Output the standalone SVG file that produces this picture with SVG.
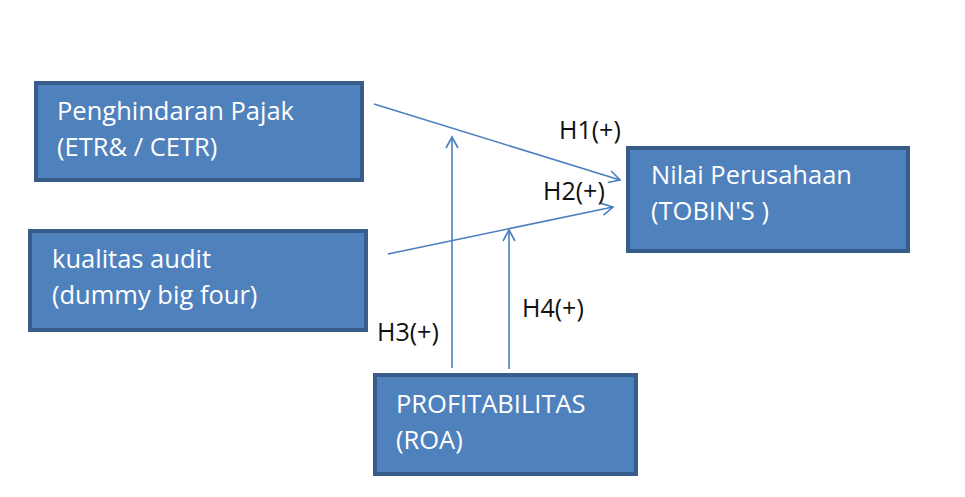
<svg xmlns="http://www.w3.org/2000/svg" width="965" height="497" viewBox="0 0 965 497">
<style>
.box{fill:#4f81bd;stroke:#385d8a;stroke-width:4}
.t{font-family:"Open Sans","Liberation Sans",sans-serif;font-size:25.5px;fill:#ffffff}
.lab{font-family:"Open Sans","Liberation Sans",sans-serif;font-size:25px;fill:#111}
.c{stroke:#4a7ebf;stroke-width:1.6;fill:none}
</style>
<defs>
<marker id="a" markerWidth="14" markerHeight="14" refX="12" refY="7" orient="auto" markerUnits="userSpaceOnUse">
<path d="M1,1 L12,7 L1,13" fill="none" stroke="#4a7ebf" stroke-width="1.6"/>
</marker>
</defs>
<rect width="965" height="497" fill="#fff"/>
<g id="connectors">
<line class="c" x1="374" y1="104" x2="620" y2="180" marker-end="url(#a)"/>
<line class="c" x1="388" y1="254" x2="613" y2="207" marker-end="url(#a)"/>
<line class="c" x1="452" y1="368" x2="452" y2="137" marker-end="url(#a)"/>
<line class="c" x1="509" y1="369" x2="509" y2="230" marker-end="url(#a)"/>
</g>
<g id="labels">
<text class="lab" x="559" y="139">H1(+)</text>
<text class="lab" x="543" y="200">H2(+)</text>
<text class="lab" x="377" y="341">H3(+)</text>
<text class="lab" x="522" y="317">H4(+)</text>
</g>
<g id="penghindaran">
<rect class="box" x="36" y="83" width="326" height="97"/>
<text class="t" x="57" y="120">Penghindaran Pajak</text>
<text class="t" x="57" y="156">(ETR&amp; / CETR)</text>
</g>
<g id="nilai">
<rect class="box" x="628" y="148" width="280" height="103"/>
<text class="t" x="651" y="184">Nilai Perusahaan</text>
<text class="t" x="651" y="220">(TOBIN'S )</text>
</g>
<g id="kualitas">
<rect class="box" x="30" y="231" width="336" height="99"/>
<text class="t" x="52" y="268">kualitas audit</text>
<text class="t" x="52" y="304">(dummy big four)</text>
</g>
<g id="profitabilitas">
<rect class="box" x="375" y="375" width="261" height="99"/>
<text class="t" x="396" y="413">PROFITABILITAS</text>
<text class="t" x="396" y="449">(ROA)</text>
</g>
</svg>
